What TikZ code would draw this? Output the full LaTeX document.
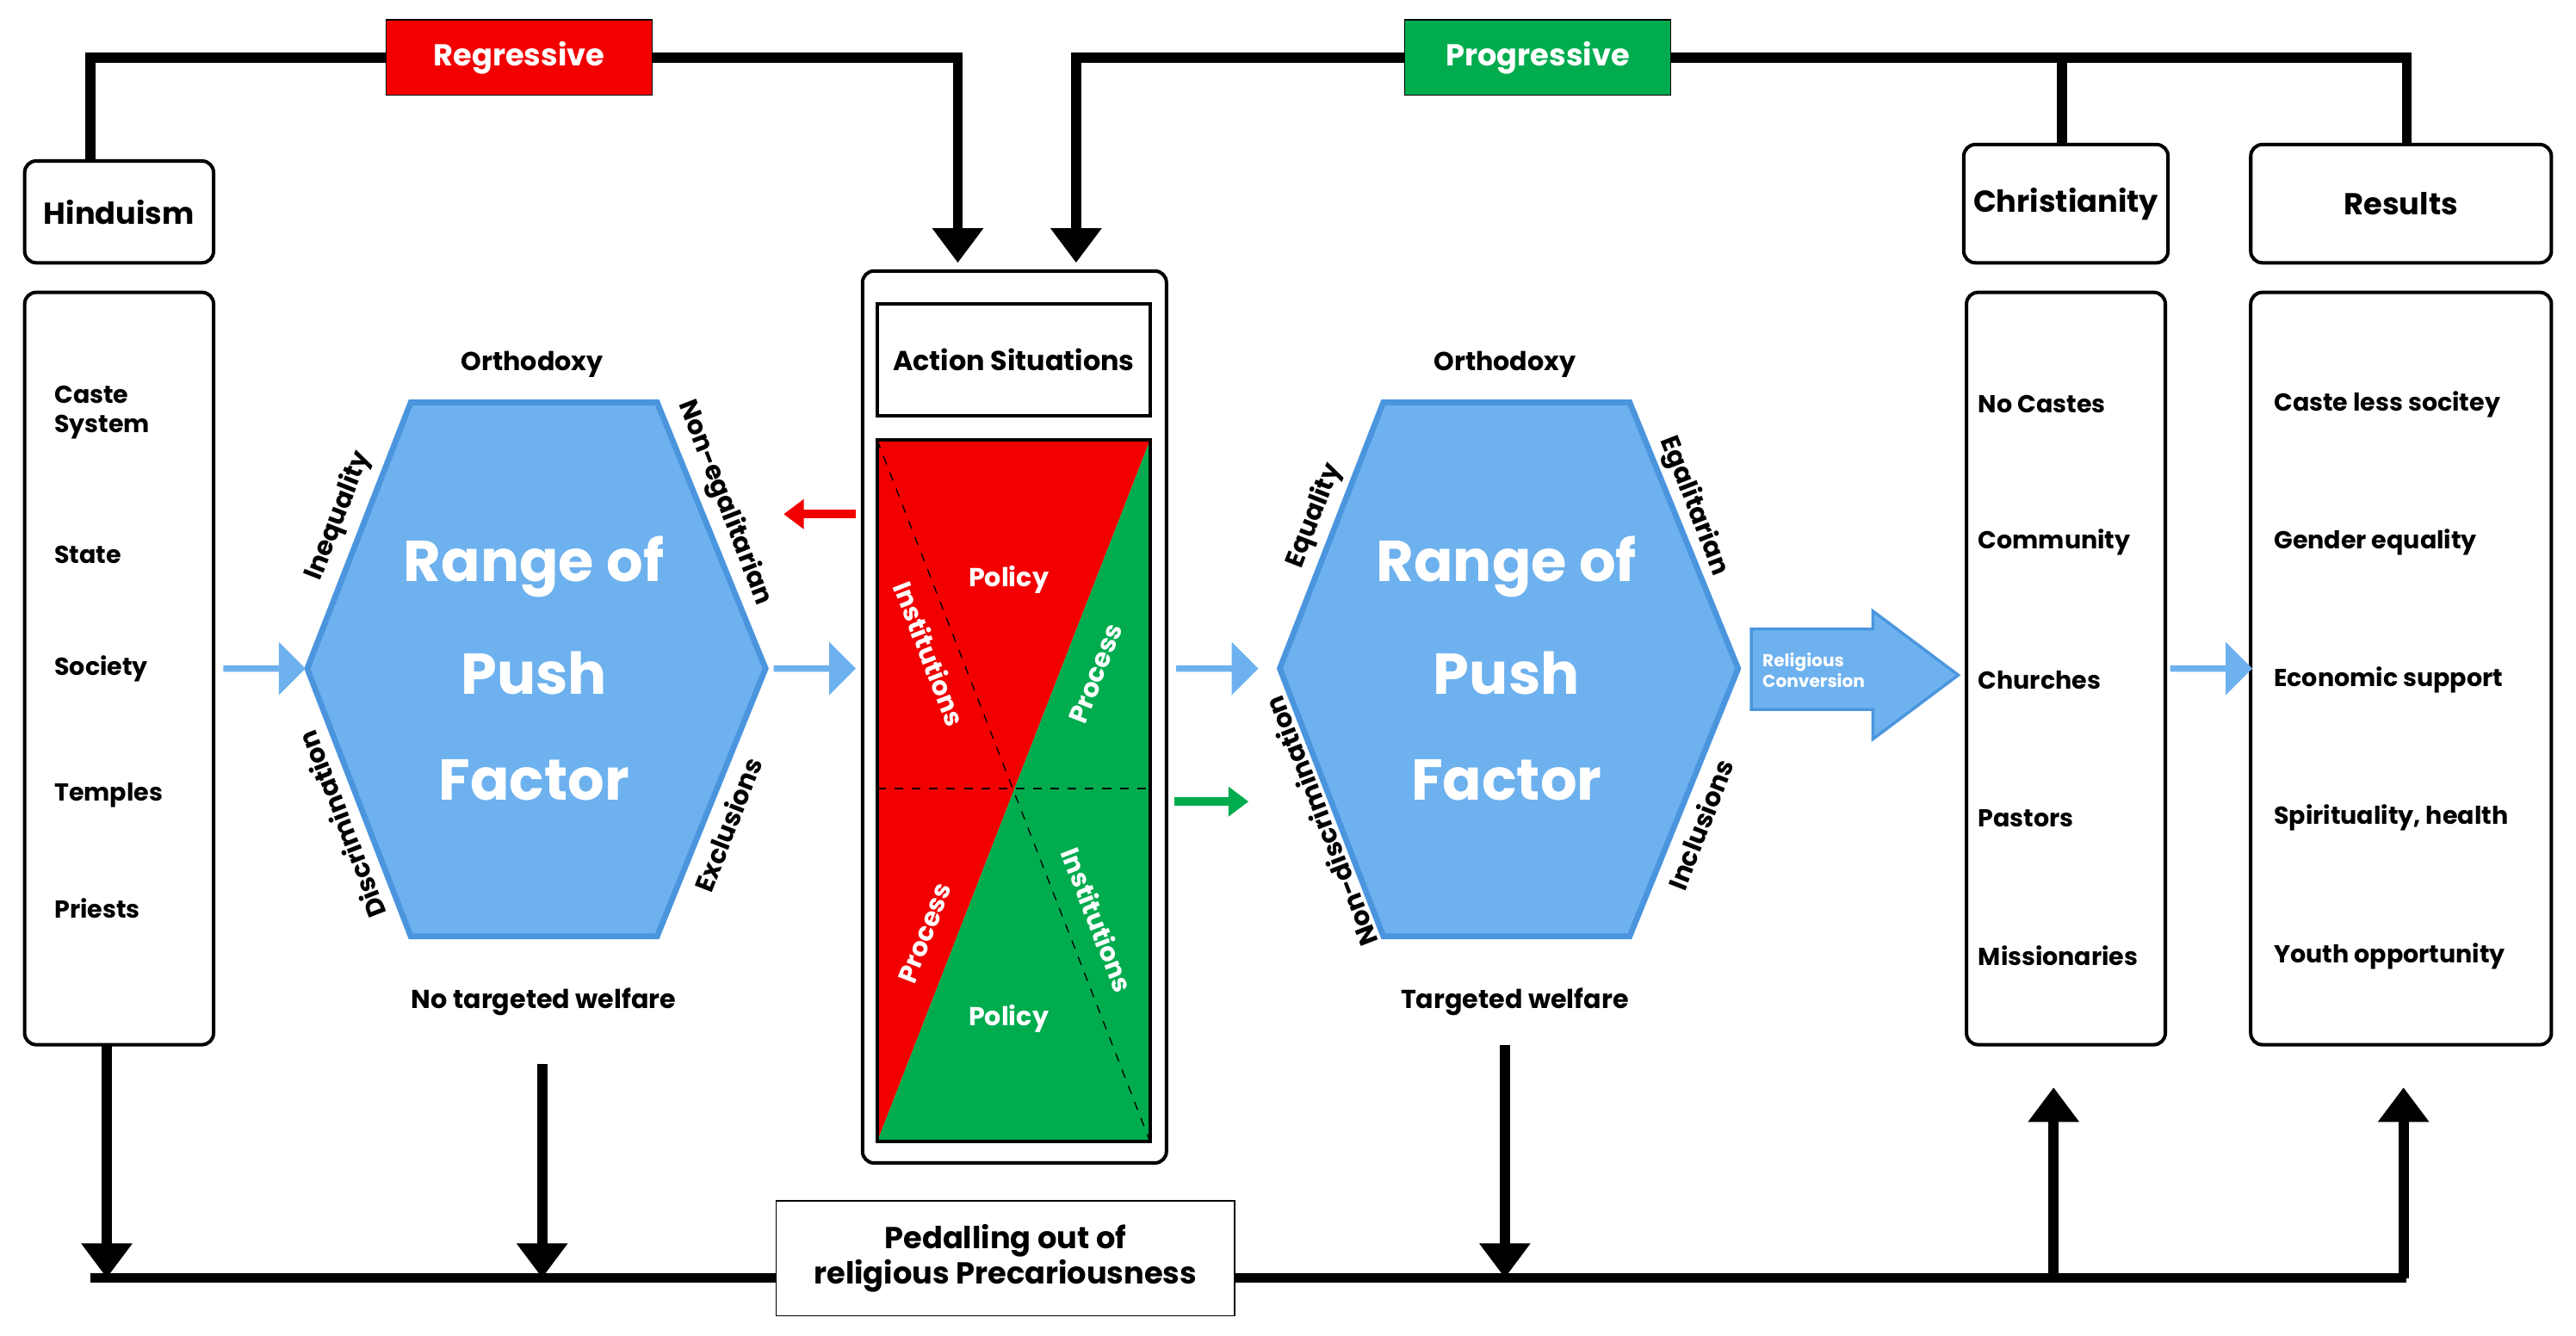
\documentclass[tikz,border=0pt]{standalone}
\usepackage{fontspec}
\setmainfont{Poppins}
\usetikzlibrary{arrows.meta,shapes.arrows}
\definecolor{hexblue}{HTML}{6DB1EE}
\definecolor{hexedge}{HTML}{4A95DE}
\definecolor{regred}{HTML}{F20000}
\definecolor{proggreen}{HTML}{00AC4E}
\tikzset{
  box/.style={draw,line width=1.2pt,rounded corners=4pt},
  item/.style={anchor=west,font=\bfseries\fontsize{8.5}{10}\selectfont,align=left},
  title/.style={font=\bfseries\fontsize{10.5}{12}\selectfont},
  edgelabel/.style={font=\bfseries\fontsize{9}{10}\selectfont},
  bigtext/.style={font=\bfseries\fontsize{20}{22}\selectfont,text=white},
  flow/.style={line width=3.5pt},
  bigarrow/.style={flow,-{Triangle[length=12pt,width=17pt]}},
  pusharrow/.style={single arrow,fill=hexblue,minimum height=1cm,minimum width=0.65cm,single arrow head extend=1.5pt,inner sep=0pt},
}
\begin{document}
\begin{tikzpicture}[x=0.02cm,y=-0.02cm]
\useasboundingbox (0,0) rectangle (1568,813);
% Koordinaten
\coordinate (hindutop) at (55,35);
\coordinate (regend) at (583,35);
\coordinate (progstart) at (655,35);
\coordinate (christtop) at (1255,35);
\coordinate (resultstop) at (1465,35);
\coordinate (bottomleft) at (55,778);
\coordinate (bottomright) at (1465,778);

% Kaesten links und rechts
\node[box,minimum width=2.3cm,minimum height=1.24cm,title] (hindu) at (72.5,129) {Hinduism};
\draw[box] (15,178) rectangle (130,636);
\node[item] (caste) at (27,251) {Caste\\System};
\node[item] (state) at (27,338) {State};
\node[item] (society) at (27,407) {Society};
\node[item] (temples) at (27,484) {Temples};
\node[item] (priests) at (27,553) {Priests};

\node[box,minimum width=2.42cm,minimum height=1.44cm,title] (christ) at (1257.5,124) {Christianity};
\node[box,minimum width=3.66cm,minimum height=1.44cm,title] (results) at (1461.5,124) {Results};
\draw[box] (1197,178) rectangle (1318,636);
\draw[box] (1370,178) rectangle (1553,636);
\foreach \t [count=\i] in {No Castes,Community,Churches,Pastors,Missionaries}
  \node[item] (christitem\i) at (1198,162+84*\i) {\t};
\foreach \t [count=\i] in {Caste less socitey,Gender equality,Economic support,{Spirituality, health},Youth opportunity}
  \node[item] (resultitem\i) at (1378,162+84*\i) {\t};

% Sechsecke
\foreach \dx/\n in {0/one,592/two}{
  \draw[fill=hexblue,draw=hexedge,line width=2pt] (250+\dx,245) -- (400+\dx,245) -- (466+\dx,407) -- (400+\dx,570) -- (250+\dx,570) -- (187+\dx,407) -- cycle;
  \node[bigtext] (range\n) at (325+\dx,345) {Range of};
  \node[bigtext] (push\n) at (325+\dx,410) {Push};
  \node[bigtext] (factor\n) at (325+\dx,475) {Factor};
  \node[edgelabel] (ortho\n) at (324+\dx,222) {Orthodoxy};
}
\node[edgelabel] (welfareone) at (331,610) {No targeted welfare};
\node[edgelabel] (welfaretwo) at (922,610) {Targeted welfare};
\node[edgelabel,rotate=68.7] (inequality) at (206,314) {Inequality};
\node[edgelabel,rotate=-68.7] (nonegal) at (441,306) {Non-egalitarian};
\node[edgelabel,rotate=111.3] (discrim) at (208,502) {Discrimination};
\node[edgelabel,rotate=68.7] (exclusions) at (443,502) {Exclusions};
\node[edgelabel,rotate=68.7] (equality) at (800,314) {Equality};
\node[edgelabel,rotate=-68.7] (egal) at (1031,308) {Egalitarian};
\node[edgelabel,rotate=111.3] (nondiscrim) at (804,500) {Non-discrimination};
\node[edgelabel,rotate=68.7] (inclusions) at (1035,502) {Inclusions};

% Action Situations
\draw[box] (525,165) rectangle (710,708);
\node[draw,line width=1.2pt,minimum width=3.32cm,minimum height=1.36cm,font=\bfseries\fontsize{9.5}{11}\selectfont] (action) at (617,219) {Action Situations};
\fill[regred] (534,268) -- (700,268) -- (534,695) -- cycle;
\fill[proggreen] (700,268) -- (700,695) -- (534,695) -- cycle;
\draw[line width=1.2pt] (534,268) rectangle (700,695);
\draw[dashed] (534,268) -- (700,695);
\draw[dashed] (534,480) -- (700,480);
\node[edgelabel,text=white] (policyone) at (614,353) {Policy};
\node[edgelabel,text=white,rotate=-68.8] (instone) at (566,398) {Institutions};
\node[edgelabel,text=white,rotate=68.8] (procone) at (667,410) {Process};
\node[edgelabel,text=white,rotate=68.8] (proctwo) at (563,568) {Process};
\node[edgelabel,text=white,rotate=-68.8] (insttwo) at (668,560) {Institutions};
\node[edgelabel,text=white] (policytwo) at (614,620) {Policy};

% Pfeile
\node[pusharrow] (pa) at (160,407) {};
\node[pusharrow] (pb) at (495,407) {};
\node[pusharrow] (pc) at (740,407) {};
\node[pusharrow] (pd) at (1345,407) {};
\draw[regred,line width=3pt,-{Triangle[length=7pt,width=10pt]}] (521,313) -- (477,313);
\draw[proggreen,line width=3pt,-{Triangle[length=7pt,width=10pt]}] (715,488) -- (760,488);
\draw[fill=hexblue,draw=hexedge,line width=1pt] (1066,383) -- (1140,383) -- (1140,372) -- (1192,411) -- (1140,450) -- (1140,432) -- (1066,432) -- cycle;
\node[align=left,text=white,font=\bfseries\fontsize{6}{7}\selectfont] (conversion) at (1104,408) {Religious\\Conversion};

% Regressive / Progressive
\node[fill=regred,draw,minimum width=3.24cm,minimum height=0.92cm,text=white,title] (regressive) at (316,35) {Regressive};
\node[fill=proggreen,draw,minimum width=3.24cm,minimum height=0.92cm,text=white,title] (progressive) at (936,35) {Progressive};
\draw[flow] (hindu.north -| hindutop) -- (hindutop) -- (regressive.west);
\draw[bigarrow] (regressive.east) -- (regend) -- (583,160);
\draw[bigarrow] (progressive.west) -- (progstart) -- (655,160);
\draw[flow] (progressive.east) -- (resultstop) -- (results.north -| resultstop);
\draw[flow] (christtop) -- (christtop |- christ.north);

% Unten
\node[draw,fill=white,minimum width=5.58cm,minimum height=1.4cm,align=center,title] (pedal) at (612,766) {Pedalling out of\\religious Precariousness};
\draw[flow] (bottomleft) -- (bottomleft -| pedal.west);
\draw[flow] (bottomright -| pedal.east) -- (bottomright);
\draw[bigarrow] (65,636) -- (65,778);
\draw[bigarrow] (330,648) -- (330,778);
\draw[bigarrow] (916,636) -- (916,778);
\draw[bigarrow] (1250,778) -- (1250,662);
\draw[bigarrow] (1463,778) -- (1463,662);
\end{tikzpicture}
\end{document}
